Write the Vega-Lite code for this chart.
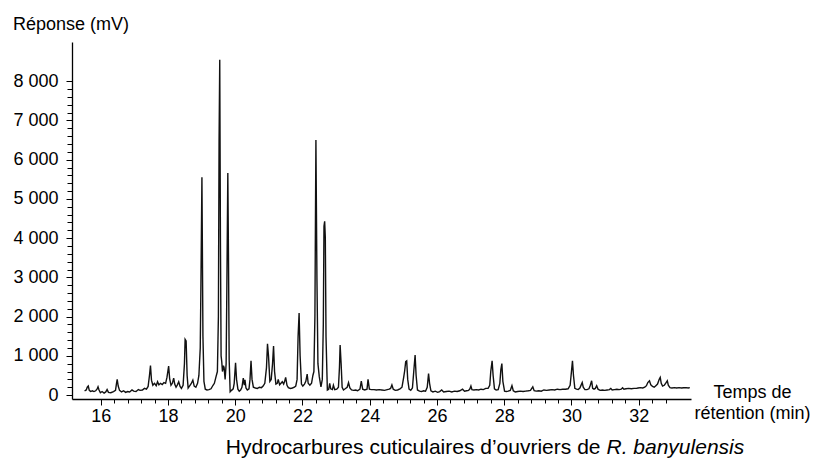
{
  "$schema": "https://vega.github.io/schema/vega-lite/v6.json",
  "width": 619,
  "height": 357,
  "autosize": "none",
  "padding": {"left": 72, "top": 42, "right": 125, "bottom": 62},
  "background": "white",
  "title": {
    "text": "Réponse (mV)",
    "orient": "top",
    "anchor": "start",
    "frame": "bounds",
    "offset": 8,
    "font": "Liberation Sans",
    "fontSize": 18,
    "fontWeight": "normal",
    "color": "#000"
  },
  "config": {
    "view": {"stroke": null},
    "axis": {
      "domainColor": "#000",
      "domainWidth": 1.3,
      "tickColor": "#000",
      "tickWidth": 1,
      "labelColor": "#000",
      "labelFont": "Liberation Sans",
      "labelFontSize": 18,
      "titleFont": "Liberation Sans",
      "titleColor": "#000",
      "titleFontWeight": "normal",
      "grid": false,
      "labelOverlap": false,
      "labelBound": false,
      "labelFlush": false
    }
  },
  "data": {
    "values": [
      {"t": 15.52, "r": 110}, {"t": 15.57, "r": 130}, {"t": 15.60, "r": 200}, {"t": 15.63, "r": 230}, {"t": 15.66, "r": 120},
      {"t": 15.70, "r": 90}, {"t": 15.75, "r": 110}, {"t": 15.80, "r": 90}, {"t": 15.85, "r": 110}, {"t": 15.89, "r": 150},
      {"t": 15.92, "r": 210}, {"t": 15.95, "r": 130}, {"t": 15.99, "r": 60}, {"t": 16.04, "r": 90}, {"t": 16.10, "r": 50},
      {"t": 16.15, "r": 80}, {"t": 16.19, "r": 140}, {"t": 16.23, "r": 70}, {"t": 16.30, "r": 60}, {"t": 16.38, "r": 90},
      {"t": 16.44, "r": 120}, {"t": 16.47, "r": 300}, {"t": 16.49, "r": 400}, {"t": 16.52, "r": 230}, {"t": 16.56, "r": 120},
      {"t": 16.62, "r": 80}, {"t": 16.68, "r": 110}, {"t": 16.74, "r": 70}, {"t": 16.80, "r": 90}, {"t": 16.86, "r": 80},
      {"t": 16.93, "r": 130}, {"t": 16.98, "r": 100}, {"t": 17.05, "r": 90}, {"t": 17.12, "r": 140}, {"t": 17.17, "r": 120},
      {"t": 17.24, "r": 130}, {"t": 17.30, "r": 170}, {"t": 17.36, "r": 150}, {"t": 17.41, "r": 220}, {"t": 17.45, "r": 500},
      {"t": 17.48, "r": 750}, {"t": 17.51, "r": 380}, {"t": 17.55, "r": 250}, {"t": 17.60, "r": 300}, {"t": 17.65, "r": 240},
      {"t": 17.69, "r": 340}, {"t": 17.73, "r": 260}, {"t": 17.78, "r": 300}, {"t": 17.83, "r": 270}, {"t": 17.88, "r": 320},
      {"t": 17.93, "r": 300}, {"t": 17.97, "r": 450}, {"t": 18.02, "r": 740}, {"t": 18.05, "r": 420}, {"t": 18.09, "r": 250},
      {"t": 18.13, "r": 300}, {"t": 18.17, "r": 430}, {"t": 18.20, "r": 280}, {"t": 18.24, "r": 200}, {"t": 18.28, "r": 260},
      {"t": 18.32, "r": 340}, {"t": 18.36, "r": 220}, {"t": 18.40, "r": 170}, {"t": 18.45, "r": 250}, {"t": 18.49, "r": 800},
      {"t": 18.51, "r": 1420}, {"t": 18.54, "r": 1380}, {"t": 18.57, "r": 500}, {"t": 18.60, "r": 180}, {"t": 18.64, "r": 230},
      {"t": 18.69, "r": 290}, {"t": 18.74, "r": 380}, {"t": 18.78, "r": 230}, {"t": 18.83, "r": 200}, {"t": 18.88, "r": 300},
      {"t": 18.92, "r": 500}, {"t": 18.96, "r": 1200}, {"t": 18.98, "r": 2800}, {"t": 19.01, "r": 5550}, {"t": 19.04, "r": 1500},
      {"t": 19.07, "r": 350}, {"t": 19.11, "r": 150}, {"t": 19.16, "r": 130}, {"t": 19.22, "r": 140}, {"t": 19.28, "r": 160},
      {"t": 19.34, "r": 250}, {"t": 19.38, "r": 300}, {"t": 19.43, "r": 470}, {"t": 19.47, "r": 600}, {"t": 19.50, "r": 2000},
      {"t": 19.52, "r": 6500}, {"t": 19.54, "r": 8550}, {"t": 19.56, "r": 4000}, {"t": 19.58, "r": 1000}, {"t": 19.60, "r": 850},
      {"t": 19.62, "r": 600}, {"t": 19.65, "r": 750}, {"t": 19.67, "r": 700}, {"t": 19.70, "r": 400}, {"t": 19.73, "r": 800},
      {"t": 19.75, "r": 2600}, {"t": 19.78, "r": 5660}, {"t": 19.80, "r": 3500}, {"t": 19.82, "r": 900}, {"t": 19.85, "r": 85},
      {"t": 19.89, "r": 120}, {"t": 19.94, "r": 160}, {"t": 19.97, "r": 300}, {"t": 20.01, "r": 820}, {"t": 20.04, "r": 400},
      {"t": 20.08, "r": 150}, {"t": 20.12, "r": 100}, {"t": 20.16, "r": 130}, {"t": 20.20, "r": 200}, {"t": 20.24, "r": 430},
      {"t": 20.27, "r": 250}, {"t": 20.29, "r": 390}, {"t": 20.32, "r": 180}, {"t": 20.36, "r": 130}, {"t": 20.41, "r": 160},
      {"t": 20.44, "r": 400}, {"t": 20.47, "r": 875}, {"t": 20.50, "r": 400}, {"t": 20.54, "r": 200}, {"t": 20.60, "r": 180},
      {"t": 20.66, "r": 170}, {"t": 20.72, "r": 200}, {"t": 20.78, "r": 190}, {"t": 20.83, "r": 230}, {"t": 20.88, "r": 300},
      {"t": 20.93, "r": 700}, {"t": 20.96, "r": 1310}, {"t": 20.99, "r": 1000}, {"t": 21.03, "r": 350}, {"t": 21.07, "r": 400},
      {"t": 21.11, "r": 800}, {"t": 21.14, "r": 1250}, {"t": 21.17, "r": 600}, {"t": 21.21, "r": 280}, {"t": 21.25, "r": 300},
      {"t": 21.28, "r": 400}, {"t": 21.32, "r": 260}, {"t": 21.36, "r": 300}, {"t": 21.40, "r": 340}, {"t": 21.44, "r": 280},
      {"t": 21.47, "r": 350}, {"t": 21.50, "r": 450}, {"t": 21.54, "r": 250}, {"t": 21.58, "r": 190}, {"t": 21.64, "r": 170},
      {"t": 21.70, "r": 180}, {"t": 21.76, "r": 200}, {"t": 21.80, "r": 230}, {"t": 21.84, "r": 400}, {"t": 21.87, "r": 1500},
      {"t": 21.90, "r": 2090}, {"t": 21.93, "r": 1000}, {"t": 21.97, "r": 280}, {"t": 22.01, "r": 230}, {"t": 22.06, "r": 280},
      {"t": 22.10, "r": 350}, {"t": 22.14, "r": 535}, {"t": 22.17, "r": 300}, {"t": 22.22, "r": 250}, {"t": 22.27, "r": 300},
      {"t": 22.31, "r": 500}, {"t": 22.34, "r": 600}, {"t": 22.37, "r": 2000}, {"t": 22.40, "r": 6500}, {"t": 22.43, "r": 3000},
      {"t": 22.46, "r": 800}, {"t": 22.50, "r": 470}, {"t": 22.55, "r": 210}, {"t": 22.59, "r": 400}, {"t": 22.62, "r": 1800},
      {"t": 22.64, "r": 4300}, {"t": 22.66, "r": 4430}, {"t": 22.68, "r": 4000}, {"t": 22.70, "r": 1500}, {"t": 22.74, "r": 130},
      {"t": 22.78, "r": 150}, {"t": 22.81, "r": 300}, {"t": 22.84, "r": 160}, {"t": 22.89, "r": 140}, {"t": 22.92, "r": 250},
      {"t": 22.96, "r": 140}, {"t": 23.02, "r": 150}, {"t": 23.07, "r": 200}, {"t": 23.10, "r": 700}, {"t": 23.12, "r": 1275},
      {"t": 23.15, "r": 800}, {"t": 23.18, "r": 200}, {"t": 23.22, "r": 130}, {"t": 23.27, "r": 160}, {"t": 23.33, "r": 200},
      {"t": 23.37, "r": 315}, {"t": 23.41, "r": 180}, {"t": 23.46, "r": 130}, {"t": 23.52, "r": 120}, {"t": 23.58, "r": 130},
      {"t": 23.64, "r": 110}, {"t": 23.71, "r": 150}, {"t": 23.75, "r": 355}, {"t": 23.79, "r": 150}, {"t": 23.85, "r": 130},
      {"t": 23.92, "r": 150}, {"t": 23.95, "r": 400}, {"t": 23.99, "r": 150}, {"t": 24.05, "r": 140}, {"t": 24.13, "r": 140},
      {"t": 24.20, "r": 130}, {"t": 24.28, "r": 140}, {"t": 24.36, "r": 130}, {"t": 24.44, "r": 120}, {"t": 24.52, "r": 140},
      {"t": 24.58, "r": 150}, {"t": 24.62, "r": 170}, {"t": 24.66, "r": 260}, {"t": 24.70, "r": 150}, {"t": 24.76, "r": 120},
      {"t": 24.83, "r": 130}, {"t": 24.90, "r": 160}, {"t": 24.96, "r": 200}, {"t": 25.01, "r": 450}, {"t": 25.04, "r": 620},
      {"t": 25.07, "r": 850}, {"t": 25.10, "r": 870}, {"t": 25.13, "r": 400}, {"t": 25.17, "r": 150}, {"t": 25.22, "r": 120},
      {"t": 25.27, "r": 180}, {"t": 25.31, "r": 600}, {"t": 25.35, "r": 1020}, {"t": 25.38, "r": 500}, {"t": 25.42, "r": 130},
      {"t": 25.48, "r": 100}, {"t": 25.54, "r": 90}, {"t": 25.60, "r": 110}, {"t": 25.66, "r": 100}, {"t": 25.71, "r": 200},
      {"t": 25.75, "r": 550}, {"t": 25.78, "r": 300}, {"t": 25.82, "r": 110}, {"t": 25.88, "r": 80}, {"t": 25.95, "r": 100},
      {"t": 26.02, "r": 70}, {"t": 26.08, "r": 90}, {"t": 26.14, "r": 130}, {"t": 26.20, "r": 80}, {"t": 26.28, "r": 90},
      {"t": 26.36, "r": 100}, {"t": 26.44, "r": 80}, {"t": 26.52, "r": 100}, {"t": 26.60, "r": 90}, {"t": 26.68, "r": 110},
      {"t": 26.76, "r": 150}, {"t": 26.82, "r": 100}, {"t": 26.88, "r": 110}, {"t": 26.94, "r": 120}, {"t": 26.98, "r": 160},
      {"t": 27.01, "r": 230}, {"t": 27.04, "r": 140}, {"t": 27.10, "r": 130}, {"t": 27.17, "r": 140}, {"t": 27.24, "r": 130},
      {"t": 27.31, "r": 150}, {"t": 27.38, "r": 140}, {"t": 27.45, "r": 170}, {"t": 27.52, "r": 170}, {"t": 27.57, "r": 250},
      {"t": 27.60, "r": 600}, {"t": 27.64, "r": 875}, {"t": 27.67, "r": 500}, {"t": 27.71, "r": 160}, {"t": 27.76, "r": 130},
      {"t": 27.82, "r": 140}, {"t": 27.87, "r": 300}, {"t": 27.90, "r": 650}, {"t": 27.93, "r": 805}, {"t": 27.96, "r": 350},
      {"t": 28.01, "r": 100}, {"t": 28.06, "r": 90}, {"t": 28.12, "r": 100}, {"t": 28.18, "r": 120}, {"t": 28.23, "r": 240},
      {"t": 28.27, "r": 110}, {"t": 28.33, "r": 80}, {"t": 28.40, "r": 90}, {"t": 28.48, "r": 100}, {"t": 28.56, "r": 90},
      {"t": 28.64, "r": 100}, {"t": 28.72, "r": 110}, {"t": 28.78, "r": 120}, {"t": 28.85, "r": 210}, {"t": 28.89, "r": 110},
      {"t": 28.95, "r": 100}, {"t": 29.03, "r": 110}, {"t": 29.10, "r": 100}, {"t": 29.18, "r": 130}, {"t": 29.26, "r": 120},
      {"t": 29.34, "r": 130}, {"t": 29.42, "r": 140}, {"t": 29.50, "r": 130}, {"t": 29.58, "r": 150}, {"t": 29.66, "r": 140},
      {"t": 29.74, "r": 150}, {"t": 29.82, "r": 150}, {"t": 29.90, "r": 160}, {"t": 29.96, "r": 250}, {"t": 30.00, "r": 600},
      {"t": 30.03, "r": 875}, {"t": 30.06, "r": 500}, {"t": 30.10, "r": 170}, {"t": 30.15, "r": 150}, {"t": 30.20, "r": 140},
      {"t": 30.25, "r": 180}, {"t": 30.29, "r": 260}, {"t": 30.32, "r": 320}, {"t": 30.35, "r": 200}, {"t": 30.40, "r": 140},
      {"t": 30.46, "r": 140}, {"t": 30.52, "r": 160}, {"t": 30.56, "r": 250}, {"t": 30.60, "r": 365}, {"t": 30.63, "r": 170},
      {"t": 30.67, "r": 150}, {"t": 30.71, "r": 170}, {"t": 30.75, "r": 240}, {"t": 30.79, "r": 150}, {"t": 30.85, "r": 120},
      {"t": 30.92, "r": 130}, {"t": 30.99, "r": 120}, {"t": 31.06, "r": 130}, {"t": 31.13, "r": 140}, {"t": 31.17, "r": 170},
      {"t": 31.21, "r": 130}, {"t": 31.28, "r": 140}, {"t": 31.35, "r": 150}, {"t": 31.42, "r": 140}, {"t": 31.48, "r": 150},
      {"t": 31.52, "r": 185}, {"t": 31.56, "r": 150}, {"t": 31.62, "r": 160}, {"t": 31.70, "r": 170}, {"t": 31.78, "r": 160},
      {"t": 31.86, "r": 170}, {"t": 31.93, "r": 170}, {"t": 31.98, "r": 180}, {"t": 32.05, "r": 190}, {"t": 32.12, "r": 180},
      {"t": 32.18, "r": 200}, {"t": 32.23, "r": 240}, {"t": 32.27, "r": 320}, {"t": 32.32, "r": 365}, {"t": 32.36, "r": 260},
      {"t": 32.41, "r": 220}, {"t": 32.46, "r": 200}, {"t": 32.51, "r": 240}, {"t": 32.56, "r": 280}, {"t": 32.61, "r": 400},
      {"t": 32.64, "r": 450}, {"t": 32.67, "r": 300}, {"t": 32.71, "r": 230}, {"t": 32.76, "r": 250}, {"t": 32.80, "r": 300},
      {"t": 32.85, "r": 365}, {"t": 32.88, "r": 250}, {"t": 32.93, "r": 190}, {"t": 32.99, "r": 180}, {"t": 33.06, "r": 190},
      {"t": 33.13, "r": 180}, {"t": 33.20, "r": 190}, {"t": 33.27, "r": 180}, {"t": 33.34, "r": 185}, {"t": 33.41, "r": 190},
      {"t": 33.47, "r": 180}, {"t": 33.52, "r": 190}
    ]
  },
  "encoding": {
    "x": {
      "field": "t",
      "type": "quantitative",
      "scale": {"domain": [15.146, 33.555], "nice": false, "zero": false},
      "axis": {
        "orient": "bottom",
        "values": [16, 16.4, 16.8, 17.2, 17.6, 18, 18.4, 18.8, 19.2, 19.6, 20, 20.4, 20.8, 21.2, 21.6, 22, 22.4, 22.8, 23.2, 23.6, 24, 24.4, 24.8, 25.2, 25.6, 26, 26.4, 26.8, 27.2, 27.6, 28, 28.4, 28.8, 29.2, 29.6, 30, 30.4, 30.8, 31.2, 31.6, 32, 32.4, 32.8],
        "labelExpr": "abs(datum.value - round(datum.value / 2) * 2) < 0.01 ? format(datum.value, 'd') : ''",
        "tickSize": {"condition": {"test": "abs(datum.value - round(datum.value / 2) * 2) < 0.01", "value": 6}, "value": 4},
        "labelPadding": 2,
        "title": ["Temps de", "rétention (min)"],
        "titleFontSize": 18,
        "titleAlign": "center",
        "titleAnchor": null,
        "titleBaseline": "alphabetic",
        "titleX": 680,
        "titleY": -2,
        "titleLineHeight": 21,
        "titleAngle": 0
      }
    }
  },
  "layer": [
    {
      "mark": {"type": "line", "color": "#111", "strokeWidth": 1.4, "interpolate": "linear"},
      "encoding": {
        "y": {
          "field": "r",
          "type": "quantitative",
          "scale": {"domain": [-100, 9000], "nice": false, "zero": false},
          "axis": {
            "orient": "left",
            "values": [0, 200, 400, 600, 800, 1000, 1200, 1400, 1600, 1800, 2000, 2200, 2400, 2600, 2800, 3000, 3200, 3400, 3600, 3800, 4000, 4200, 4400, 4600, 4800, 5000, 5200, 5400, 5600, 5800, 6000, 6200, 6400, 6600, 6800, 7000, 7200, 7400, 7600, 7800, 8000],
            "labelExpr": "datum.value % 1000 === 0 ? replace(format(datum.value, ','), ',', ' ') : ''",
            "tickSize": {"condition": {"test": "datum.value % 1000 === 0", "value": 6}, "value": 5},
            "labelPadding": 8,
            "title": "Hydrocarbures cuticulaires d’ouvriers de",
            "titleFontSize": 21,
            "titleAngle": 0,
            "titleAlign": "right",
            "titleAnchor": null,
            "titleBaseline": "alphabetic",
            "titleX": 528,
            "titleY": 411
          }
        }
      }
    },
    {
      "mark": {"type": "line", "opacity": 0, "strokeWidth": 0},
      "encoding": {
        "y": {
          "field": "r",
          "type": "quantitative",
          "scale": {"domain": [-100, 9000], "nice": false, "zero": false},
          "axis": {
            "orient": "right",
            "domain": false,
            "ticks": false,
            "labels": false,
            "title": "R. banyulensis",
            "titleFontSize": 21,
            "titleFontStyle": "italic",
            "titleAngle": 0,
            "titleAlign": "left",
            "titleAnchor": null,
            "titleBaseline": "alphabetic",
            "titleX": -85,
            "titleY": 411
          }
        }
      }
    }
  ],
  "resolve": {"scale": {"y": "independent"}, "axis": {"y": "independent"}}
}
